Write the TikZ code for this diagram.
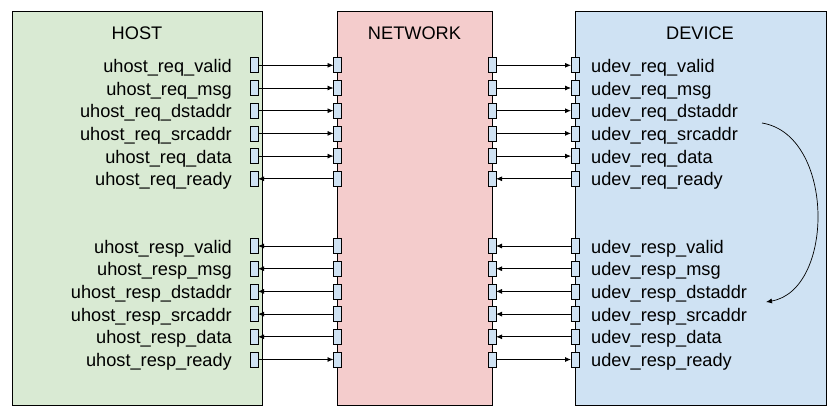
\documentclass[tikz,border=0pt]{standalone}
\usepackage{fontspec}
\setmainfont{Liberation Sans}
\usetikzlibrary{arrows.meta}
\definecolor{hostg}{HTML}{D9EAD3}
\definecolor{netr}{HTML}{F4CCCC}
\definecolor{devb}{HTML}{CFE2F3}
\begin{document}
\begin{tikzpicture}[x=1pt,y=-1pt,
  blk/.style={draw=black,line width=0.9pt,inner sep=0pt,anchor=north west},
  port/.style={draw=black,fill=devb,line width=0.8pt,minimum width=8pt,minimum height=15pt,inner sep=0pt,outer sep=0pt},
  sig/.style={line width=0.8pt,-{Latex[length=6pt,width=5pt]}},
  lbl/.style={font=\fontsize{18.2}{20}\selectfont,inner sep=0pt},
  ttl/.style={font=\fontsize{18.2}{20}\selectfont,inner sep=0pt,anchor=base}]
\useasboundingbox (0,0) rectangle (838,418);
\node[blk,fill=hostg,minimum width=250pt,minimum height=394pt] (host) at (12,11) {};
\node[blk,fill=netr,minimum width=155pt,minimum height=394pt] (net) at (337,11) {};
\node[blk,fill=devb,minimum width=251pt,minimum height=394pt] (dev) at (575,11) {};
\node[ttl] (thost) at (137,39) {HOST};
\node[ttl] (tnet) at (414.5,39) {NETWORK};
\node[ttl] (tdev) at (700,39) {DEVICE};
\foreach \i/\y/\n in {1/65.3/req\_valid,2/88/req\_msg,3/110.7/req\_dstaddr,4/133.4/req\_srcaddr,5/156.1/req\_data,6/178.8/req\_ready,
  7/246/resp\_valid,8/268.7/resp\_msg,9/291.4/resp\_dstaddr,10/314.1/resp\_srcaddr,11/336.8/resp\_data,12/359.5/resp\_ready}{
  \node[port] (hp\i) at (254,\y) {};
  \node[port] (nl\i) at (337.5,\y) {};
  \node[port] (nr\i) at (492,\y) {};
  \node[port] (dp\i) at (575,\y) {};
  \node[lbl,anchor=base east] (hl\i) at (232,\y+7) {uhost\_\n};
  \node[lbl,anchor=base west] (dl\i) at (591,\y+7) {udev\_\n};
}
\foreach \i in {1,...,5,12}{
  \draw[sig] (hp\i.east) -- (nl\i.west);
  \draw[sig] (nr\i.east) -- (dp\i.west);
}
\foreach \i in {6,...,11}{
  \draw[sig] (nl\i.west) -- (hp\i.east);
  \draw[sig] (dp\i.west) -- (nr\i.east);
}
\coordinate (cs) at (762,123);
\coordinate (ce) at (766,302);
\draw[line width=0.7pt,-{Latex[length=6pt,width=5pt]}] (cs) .. controls (835,135) and (835,290) .. (ce);
\end{tikzpicture}
\end{document}
